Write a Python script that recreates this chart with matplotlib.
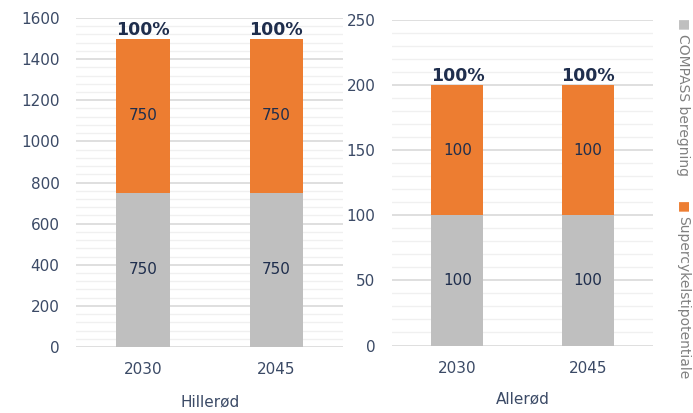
import matplotlib.pyplot as plt
import numpy as np

years = ['2030', '2045']
hillerod_compass = [750, 750]
hillerod_super = [750, 750]
allerod_compass = [100, 100]
allerod_super = [100, 100]
pct = ['100%', '100%']
names = ['Hillerød', 'Allerød']

grey = '#bfbfbf'
orange = '#ed7d31'
navy = '#1f2e4d'
txt = '#3b4a66'

plt.rcParams['font.family'] = ['DejaVu Sans']

fig = plt.figure(figsize=(6.93, 4.13), dpi=100)
ax1 = fig.add_axes([0.110, 0.1598, 0.385, 0.7966])
ax2 = fig.add_axes([0.566, 0.1634, 0.376, 0.788])


def draw(ax, base, top, ymax, step, name, ylab):
    x = np.arange(len(years))
    b1 = ax.bar(x, base, 0.4, color=grey, zorder=3)
    b2 = ax.bar(x, top, 0.4, bottom=base, color=orange, zorder=3)
    ax.bar_label(b1, label_type='center', color=navy, fontsize=11)
    ax.bar_label(b2, label_type='center', color=navy, fontsize=11)
    tot = np.array(base) + np.array(top)
    for xi, t, p in zip(x, tot, pct):
        ax.annotate(p, (xi, t), xytext=(0, 0), textcoords='offset points',
                    ha='center', va='bottom', fontsize=12.5, fontweight='bold',
                    color=navy)
    ax.set_xlim(-0.5, 1.5)
    ax.set_ylim(0, ymax)
    ax.set_yticks(np.arange(0, ymax + 1, step))
    ax.set_yticks(np.arange(0, ymax + 1, step / 5), minor=True)
    ax.grid(True, axis='y', which='major', color='#d9d9d9', lw=1.2, zorder=0)
    ax.grid(True, axis='y', which='minor', color='#f0f0f0', lw=1.0, zorder=0)
    ax.set_xticks(x, years)
    ax.tick_params(length=0, labelsize=11, labelcolor=txt)
    ax.tick_params(axis='y', which='both', length=0, pad=12)
    ax.tick_params(axis='x', pad=11)
    for s in ax.spines.values():
        s.set_visible(False)
    ax.set_xlabel(name, fontsize=11, color=txt, va='center')
    ax.xaxis.set_label_coords(0.5, ylab)


draw(ax1, hillerod_compass, hillerod_super, 1600, 200, names[0], -0.166)
draw(ax2, allerod_compass, allerod_super, 250, 50, names[1], -0.164)

# legend, rotated
fig.text(0.986, 0.94, '■', rotation=270, color=grey, fontsize=9,
         ha='center', va='center')
fig.text(0.986, 0.917, 'COMPASS beregning', rotation=270, color='#808080',
         fontsize=10, ha='center', va='top')
fig.text(0.986, 0.498, '■', rotation=270, color=orange, fontsize=9,
         ha='center', va='center')
fig.text(0.986, 0.478, 'Supercykelstipotentiale', rotation=270,
         color='#808080', fontsize=10, ha='center', va='top')

fig.savefig('out.png', dpi=100)
